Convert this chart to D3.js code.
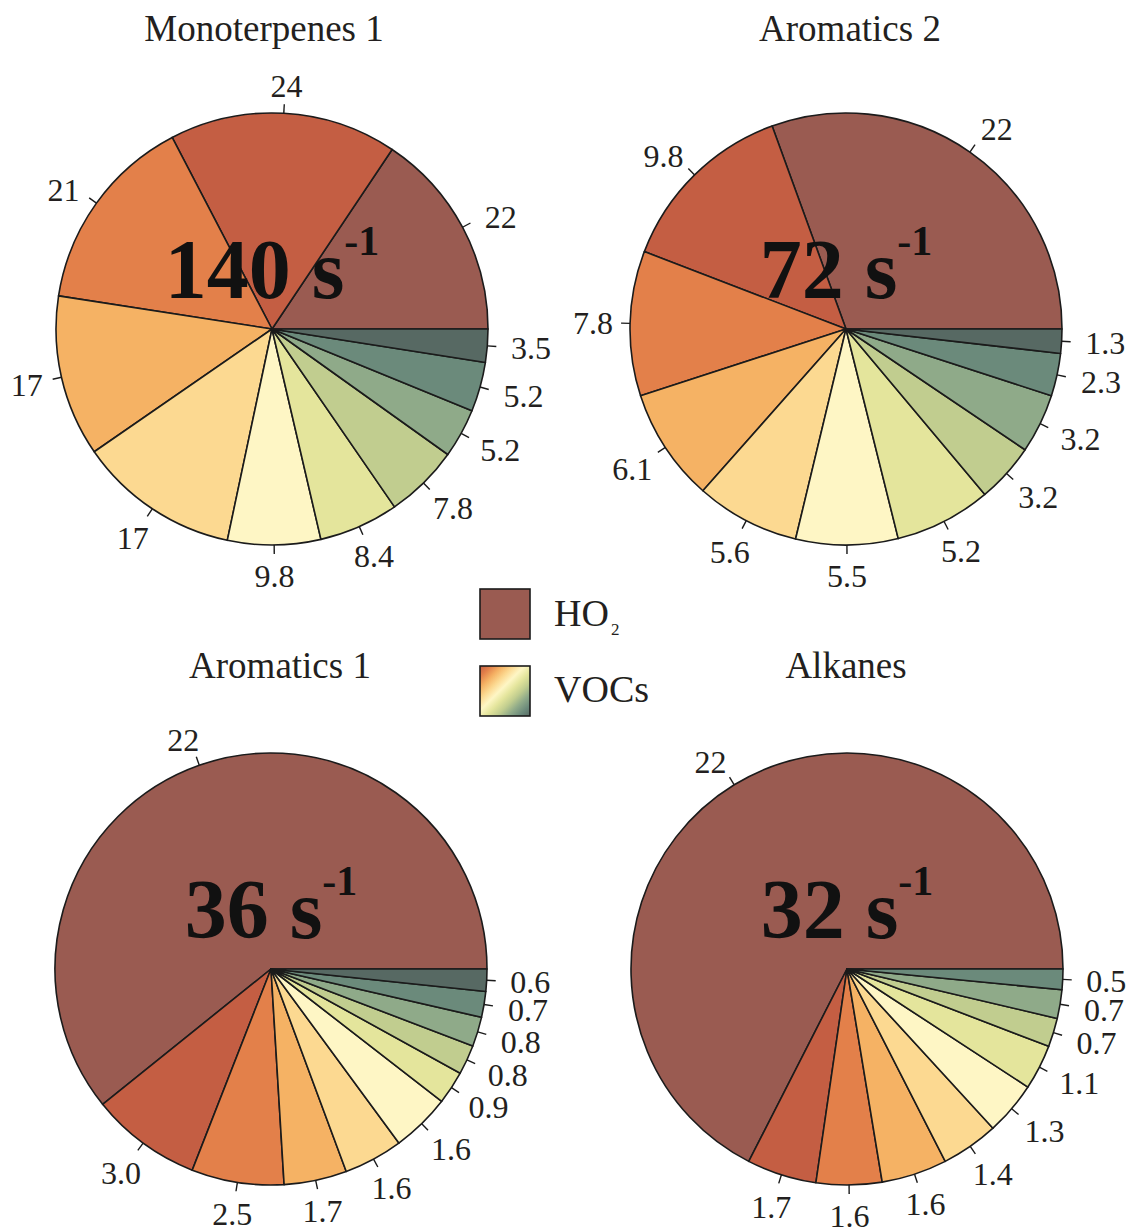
<!DOCTYPE html>
<html>
<head>
<meta charset="utf-8">
<script src="https://cdn.jsdelivr.net/npm/d3@7"></script>
<style>
  html, body { margin: 0; padding: 0; background: #ffffff; }
  svg { display: block; }
</style>
</head>
<body>
<svg id="chart" width="1129" height="1227"></svg>
<script>
// OH reactivity budgets: HO2 share plus individual VOC contributions (s^-1)
const panelTitles = ["Monoterpenes 1", "Aromatics 2", "Aromatics 1", "Alkanes"];
const totalReactivity = [140, 72, 36, 32];
const ho2Values = [22, 22, 22, 22];
const vocMonoterpenes1 = [24, 21, 17, 17, 9.8, 8.4, 7.8, 5.2, 5.2, 3.5];
const vocAromatics2 = [9.8, 7.8, 6.1, 5.6, 5.5, 5.2, 3.2, 3.2, 2.3, 1.3];
const vocAromatics1 = [3.0, 2.5, 1.7, 1.6, 1.6, 0.9, 0.8, 0.8, 0.7, 0.6];
const vocAlkanes = [1.7, 1.6, 1.6, 1.4, 1.3, 1.1, 0.7, 0.7, 0.5];
const vocSeries = [vocMonoterpenes1, vocAromatics2, vocAromatics1, vocAlkanes];

const legendLabels = ["HO", "VOCs"];

// Colours
const ho2Color = "#9a5b51";
const vocColors = ["#c45e43", "#e3804a", "#f5b264", "#fcd991", "#fef6c5",
                   "#e4e59c", "#c1cd8f", "#8faa89", "#6b8a7b", "#576963"];

// Panel layout
const layout = [
  { cx: 272, cy: 329, tx: 264, ty: 41 },
  { cx: 846, cy: 329, tx: 850, ty: 41 },
  { cx: 271, cy: 969, tx: 280, ty: 678 },
  { cx: 847, cy: 969, tx: 846, ty: 678 }
];
const R = 216;
const serif = "'Liberation Serif', 'Times New Roman', Times, serif";
const ink = "#1b1b1b";

const svg = d3.select("#chart");

const fmt = v => v >= 10 ? d3.format(".0f")(v) : d3.format(".1f")(v);

// slices start at 3 o'clock and run counter-clockwise
const pie = d3.pie()
  .sort(null)
  .value(d => d.value)
  .startAngle(Math.PI / 2)
  .endAngle(Math.PI / 2 - 2 * Math.PI);

const arc = d3.arc().innerRadius(0).outerRadius(R);

panelTitles.forEach((title, i) => {
  const L = layout[i];
  const slices = [{ value: ho2Values[i], color: ho2Color }]
    .concat(vocSeries[i].map((v, j) => ({ value: v, color: vocColors[j] })));

  const g = svg.append("g").attr("transform", `translate(${L.cx},${L.cy})`);
  const arcs = pie(slices);

  g.selectAll("path.slice")
    .data(arcs)
    .join("path")
    .attr("class", "slice")
    .attr("d", arc)
    .attr("fill", d => d.data.color)
    .attr("stroke", ink)
    .attr("stroke-width", 1.6)
    .attr("stroke-linejoin", "round");

  // tick marks and value labels
  const fs = 32;
  const digitHalf = 0.338 * fs;
  arcs.forEach(a => {
    const m = (a.startAngle + a.endAngle) / 2;
    const ux = Math.sin(m), uy = -Math.cos(m);
    g.append("line")
      .attr("x1", ux * R).attr("y1", uy * R)
      .attr("x2", ux * (R + 9)).attr("y2", uy * (R + 9))
      .attr("stroke", ink).attr("stroke-width", 1.4);
    const t = g.append("text")
      .attr("font-family", serif)
      .attr("font-size", fs)
      .attr("fill", "#231f20")
      .attr("text-anchor", "middle")
      .text(fmt(a.data.value));
    const hw = t.node().getComputedTextLength() / 2;
    // labels above the centre are fanned slightly away from the vertical
    let ml = m;
    if (uy < 0) {
      const rot = Math.min(2, 5 * Math.abs(ux * uy)) * Math.PI / 180;
      ml += (ux > 0 ? 1 : -1) * rot;
    }
    const lx = Math.sin(ml), ly = -Math.cos(ml);
    const b = lx > 0 ? 1.2 : 0.9;
    const hv = ly < 0 ? 8 : 12.5;
    const D = R + 19 + b * hw * Math.pow(Math.abs(lx), 1.5) + hv * Math.abs(ly);
    let y = ly * D + digitHalf;
    if (lx > 0 && ly > 0) y -= 10 * lx * ly;
    t.attr("x", lx * D).attr("y", y);
  });

  // total reactivity in the middle
  const c = g.append("text")
    .attr("font-family", serif)
    .attr("font-weight", "bold")
    .attr("font-size", 84)
    .attr("fill", "#111111")
    .attr("text-anchor", "middle")
    .attr("x", 0)
    .attr("y", -31);
  c.append("tspan").text(`${totalReactivity[i]} s`);
  c.append("tspan").attr("font-size", 42).attr("dy", -43).text("-1");

  // panel title
  svg.append("text")
    .attr("font-family", serif)
    .attr("font-size", 37)
    .attr("fill", "#231f20")
    .attr("text-anchor", "middle")
    .attr("x", L.tx)
    .attr("y", L.ty)
    .text(title);
});

// legend
const defs = svg.append("defs");
const grad = defs.append("linearGradient")
  .attr("id", "vocGrad")
  .attr("x1", "0").attr("y1", "0").attr("x2", "1").attr("y2", "1");
vocColors.forEach((col, j) => {
  grad.append("stop")
    .attr("offset", (j / (vocColors.length - 1)))
    .attr("stop-color", col);
});

const lg = svg.append("g");
lg.append("rect")
  .attr("x", 480).attr("y", 589).attr("width", 50).attr("height", 50)
  .attr("fill", ho2Color).attr("stroke", ink).attr("stroke-width", 1.6);
lg.append("rect")
  .attr("x", 480).attr("y", 666).attr("width", 50).attr("height", 50)
  .attr("fill", "url(#vocGrad)").attr("stroke", ink).attr("stroke-width", 1.6);

const t1 = lg.append("text")
  .attr("font-family", serif).attr("font-size", 38).attr("fill", "#231f20")
  .attr("x", 554).attr("y", 626);
t1.append("tspan").text(legendLabels[0]);
t1.append("tspan").attr("font-size", 17).attr("dy", 9).attr("dx", 2).text("2");

lg.append("text")
  .attr("font-family", serif).attr("font-size", 38).attr("fill", "#231f20")
  .attr("x", 554).attr("y", 702)
  .text(legendLabels[1]);
</script>
</body>
</html>
